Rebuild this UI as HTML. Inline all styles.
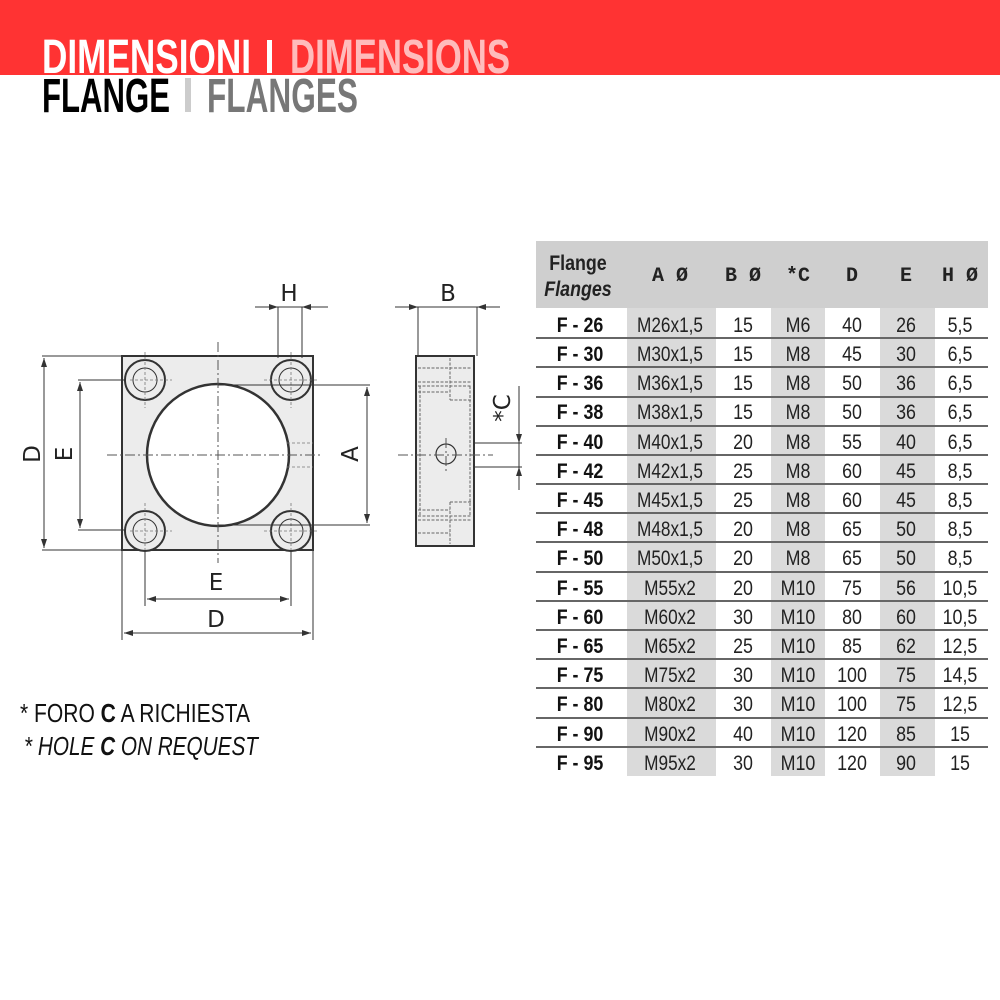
<!DOCTYPE html>
<html><head><meta charset="utf-8"><style>
html,body{margin:0;padding:0;background:#fff}
svg{display:block}
.t{font-family:"Liberation Sans Narrow","Liberation Sans",sans-serif}
</style></head><body>
<svg width="1000" height="1000" viewBox="0 0 1000 1000" xmlns="http://www.w3.org/2000/svg">
<rect x="0" y="0" width="1000" height="75" fill="#ff3333"/>
<g class="t" font-weight="bold">
<text x="42" y="73" font-size="48" fill="#fff" textLength="209" lengthAdjust="spacingAndGlyphs">DIMENSIONI</text>
<rect x="267" y="40" width="5" height="33" fill="#fff"/>
<text x="290" y="73" font-size="48" fill="#ffbcbc" textLength="220" lengthAdjust="spacingAndGlyphs">DIMENSIONS</text>
<text x="42" y="112" font-size="48" fill="#000" textLength="128" lengthAdjust="spacingAndGlyphs">FLANGE</text>
<rect x="185" y="78" width="6" height="34" fill="#ccc"/>
<text x="207" y="112" font-size="48" fill="#777" textLength="151" lengthAdjust="spacingAndGlyphs">FLANGES</text>
</g>

<g stroke="#333" fill="none">
<rect x="122" y="356" width="191" height="194" fill="#ececec" stroke-width="2"/>
<circle cx="218" cy="455" r="71" fill="#fff" stroke-width="2.5"/>
<g stroke-width="2" fill="#ececec">
<circle cx="145" cy="380" r="20"/><circle cx="291" cy="380" r="20"/>
<circle cx="145" cy="531" r="20"/><circle cx="291" cy="531" r="20"/>
</g>
<g stroke-width="1">
<circle cx="145" cy="380" r="12"/><circle cx="291" cy="380" r="12"/>
<circle cx="145" cy="531" r="12"/><circle cx="291" cy="531" r="12"/>
</g>
<g stroke="#555" stroke-width="1" stroke-dasharray="10,3,2,3">
<line x1="107" y1="455" x2="322" y2="455"/>
<line x1="218" y1="342" x2="218" y2="563"/>
</g>
<g stroke="#777" stroke-width="0.8" stroke-dasharray="3,2">
<line x1="130" y1="380" x2="172" y2="380"/><line x1="145" y1="352" x2="145" y2="408"/>
<line x1="264" y1="380" x2="318" y2="380"/><line x1="291" y1="352" x2="291" y2="408"/>
<line x1="130" y1="531" x2="172" y2="531"/><line x1="145" y1="503" x2="145" y2="550"/>
<line x1="264" y1="531" x2="318" y2="531"/><line x1="291" y1="503" x2="291" y2="550"/>
<line x1="287" y1="443" x2="313" y2="443"/><line x1="287" y1="467" x2="313" y2="467"/>
</g>
<g stroke="#333" stroke-width="1">
<line x1="42" y1="356" x2="122" y2="356"/><line x1="42" y1="550" x2="122" y2="550"/>
<line x1="44" y1="358" x2="44" y2="548"/>
<line x1="78" y1="380" x2="125" y2="380"/><line x1="78" y1="530" x2="125" y2="530"/>
<line x1="80" y1="382" x2="80" y2="528"/>
<line x1="218" y1="385" x2="370" y2="385"/><line x1="218" y1="525" x2="370" y2="525"/>
<line x1="367" y1="387" x2="367" y2="523"/>
<line x1="122" y1="550" x2="122" y2="640"/><line x1="313" y1="550" x2="313" y2="640"/>
<line x1="145" y1="550" x2="145" y2="606"/><line x1="291" y1="550" x2="291" y2="606"/>
<line x1="124" y1="633" x2="311" y2="633"/>
<line x1="147" y1="599" x2="289" y2="599"/>
<line x1="278" y1="307" x2="278" y2="358"/><line x1="302" y1="307" x2="302" y2="358"/>
<line x1="255" y1="307" x2="328" y2="307"/>
<line x1="418" y1="307" x2="418" y2="356"/><line x1="477" y1="307" x2="477" y2="356"/>
<line x1="395" y1="307" x2="500" y2="307"/>
<line x1="446" y1="443" x2="522" y2="443"/><line x1="446" y1="467" x2="522" y2="467"/>
<line x1="519" y1="386" x2="519" y2="490"/>
</g>
</g>
<g fill="#333">
<path d="M44 358l-3 9h6z M44 548l-3-9h6z"/>
<path d="M80 382l-3 9h6z M80 528l-3-9h6z"/>
<path d="M367 387l-3 9h6z M367 523l-3-9h6z"/>
<path d="M124 633l9-3v6z M311 633l-9-3v6z"/>
<path d="M147 599l9-3v6z M289 599l-9-3v6z"/>
<path d="M278 307l-9-3v6z M302 307l9-3v6z"/>
<path d="M418 307l-9-3v6z M477 307l9-3v6z"/>
<path d="M519 443l-3-9h6z M519 467l-3 9h6z"/>
</g>

<g stroke="#333" fill="none">
<rect x="416" y="356" width="58" height="190" fill="#ececec" stroke-width="2"/>
<g stroke="#666" stroke-width="1" stroke-dasharray="3,1.5">
<line x1="418" y1="368" x2="472" y2="368"/>
<line x1="418" y1="382" x2="472" y2="382"/>
<line x1="418" y1="386" x2="472" y2="386"/>
<line x1="418" y1="392" x2="450" y2="392"/>
<line x1="450" y1="358" x2="450" y2="400"/><line x1="450" y1="400" x2="472" y2="400"/>
<line x1="420" y1="386" x2="420" y2="516"/><line x1="470" y1="386" x2="470" y2="516"/>
<line x1="450" y1="502" x2="472" y2="502"/><line x1="450" y1="502" x2="450" y2="544"/>
<line x1="418" y1="510" x2="450" y2="510"/>
<line x1="418" y1="516" x2="472" y2="516"/>
<line x1="418" y1="520" x2="472" y2="520"/>
<line x1="418" y1="533" x2="450" y2="533"/>
</g>
<circle cx="446" cy="454" r="10" stroke-width="1.2"/>
<g stroke="#555" stroke-width="1" stroke-dasharray="10,3,2,3">
<line x1="398" y1="455" x2="493" y2="455"/>
<line x1="446" y1="438" x2="446" y2="472"/>
</g>
</g>

<g font-family="'DejaVu Sans','Liberation Sans',sans-serif" font-size="23" fill="#222" text-anchor="middle">
<text x="289" y="301">H</text>
<text x="448" y="301">B</text>
<text x="216" y="590">E</text>
<text x="216" y="627">D</text>
<text transform="translate(40,454) rotate(-90)">D</text>
<text transform="translate(72,454) rotate(-90)">E</text>
<text transform="translate(358,454) rotate(-90)">A</text>
<text transform="translate(510,408) rotate(-90)">*C</text>
</g>

<g class="t" font-size="26" fill="#111">
<text x="20" y="722" textLength="230" lengthAdjust="spacingAndGlyphs">* FORO <tspan font-weight="bold">C</tspan> A RICHIESTA</text>
<text x="24" y="755" font-style="italic" textLength="234" lengthAdjust="spacingAndGlyphs">* HOLE <tspan font-weight="bold">C</tspan> ON REQUEST</text>
</g>

<rect x="536" y="241" width="452" height="67" fill="#cfcfcf"/>
<rect x="627" y="308" width="89" height="468" fill="#dadada"/>
<rect x="771" y="308" width="54" height="468" fill="#dadada"/>
<rect x="880" y="308" width="55" height="468" fill="#dadada"/>
<g fill="#666">
<rect x="536" y="337" width="452" height="2"/><rect x="536" y="366" width="452" height="2"/>
<rect x="536" y="396" width="452" height="2"/><rect x="536" y="425" width="452" height="2"/>
<rect x="536" y="454" width="452" height="2"/><rect x="536" y="483" width="452" height="2"/>
<rect x="536" y="512" width="452" height="2"/><rect x="536" y="541" width="452" height="2"/>
<rect x="536" y="571" width="452" height="2"/><rect x="536" y="600" width="452" height="2"/>
<rect x="536" y="629" width="452" height="2"/><rect x="536" y="658" width="452" height="2"/>
<rect x="536" y="687" width="452" height="2"/><rect x="536" y="717" width="452" height="2"/>
<rect x="536" y="746" width="452" height="2"/>
</g>
<g class="t" fill="#222" text-anchor="middle" font-weight="bold" transform="translate(578,0) scale(0.85,1)">
<text x="0" y="270" font-size="21">Flange</text>
<text x="0" y="296" font-size="21" font-style="italic">Flanges</text>
</g>
<g font-family="'Liberation Mono',monospace" font-weight="bold" font-size="20" fill="#222" text-anchor="middle">
<text x="670" y="281">A Ø</text><text x="743" y="281">B Ø</text><text x="798" y="281">*C</text>
<text x="852" y="281">D</text><text x="906" y="281">E</text><text x="960" y="281">H Ø</text>
</g>
<g class="t" font-size="21" fill="#222" text-anchor="middle">
<g font-weight="bold" fill="#111" transform="translate(580,0) scale(0.85,1)">
<text x="0" y="332">F - 26</text><text x="0" y="361">F - 30</text><text x="0" y="390">F - 36</text><text x="0" y="419">F - 38</text>
<text x="0" y="449">F - 40</text><text x="0" y="478">F - 42</text><text x="0" y="507">F - 45</text><text x="0" y="536">F - 48</text>
<text x="0" y="565">F - 50</text><text x="0" y="595">F - 55</text><text x="0" y="624">F - 60</text><text x="0" y="653">F - 65</text>
<text x="0" y="682">F - 75</text><text x="0" y="711">F - 80</text><text x="0" y="741">F - 90</text><text x="0" y="770">F - 95</text>
</g>
<g transform="translate(670,0) scale(0.82,1)">
<text x="0" y="332">M26x1,5</text><text x="0" y="361">M30x1,5</text><text x="0" y="390">M36x1,5</text><text x="0" y="419">M38x1,5</text>
<text x="0" y="449">M40x1,5</text><text x="0" y="478">M42x1,5</text><text x="0" y="507">M45x1,5</text><text x="0" y="536">M48x1,5</text>
<text x="0" y="565">M50x1,5</text><text x="0" y="595">M55x2</text><text x="0" y="624">M60x2</text><text x="0" y="653">M65x2</text>
<text x="0" y="682">M75x2</text><text x="0" y="711">M80x2</text><text x="0" y="741">M90x2</text><text x="0" y="770">M95x2</text>
</g>
<g transform="translate(743,0) scale(0.85,1)">
<text x="0" y="332">15</text><text x="0" y="361">15</text><text x="0" y="390">15</text><text x="0" y="419">15</text>
<text x="0" y="449">20</text><text x="0" y="478">25</text><text x="0" y="507">25</text><text x="0" y="536">20</text>
<text x="0" y="565">20</text><text x="0" y="595">20</text><text x="0" y="624">30</text><text x="0" y="653">25</text>
<text x="0" y="682">30</text><text x="0" y="711">30</text><text x="0" y="741">40</text><text x="0" y="770">30</text>
</g>
<g transform="translate(798,0) scale(0.85,1)">
<text x="0" y="332">M6</text><text x="0" y="361">M8</text><text x="0" y="390">M8</text><text x="0" y="419">M8</text>
<text x="0" y="449">M8</text><text x="0" y="478">M8</text><text x="0" y="507">M8</text><text x="0" y="536">M8</text>
<text x="0" y="565">M8</text><text x="0" y="595">M10</text><text x="0" y="624">M10</text><text x="0" y="653">M10</text>
<text x="0" y="682">M10</text><text x="0" y="711">M10</text><text x="0" y="741">M10</text><text x="0" y="770">M10</text>
</g>
<g transform="translate(852,0) scale(0.85,1)">
<text x="0" y="332">40</text><text x="0" y="361">45</text><text x="0" y="390">50</text><text x="0" y="419">50</text>
<text x="0" y="449">55</text><text x="0" y="478">60</text><text x="0" y="507">60</text><text x="0" y="536">65</text>
<text x="0" y="565">65</text><text x="0" y="595">75</text><text x="0" y="624">80</text><text x="0" y="653">85</text>
<text x="0" y="682">100</text><text x="0" y="711">100</text><text x="0" y="741">120</text><text x="0" y="770">120</text>
</g>
<g transform="translate(906,0) scale(0.85,1)">
<text x="0" y="332">26</text><text x="0" y="361">30</text><text x="0" y="390">36</text><text x="0" y="419">36</text>
<text x="0" y="449">40</text><text x="0" y="478">45</text><text x="0" y="507">45</text><text x="0" y="536">50</text>
<text x="0" y="565">50</text><text x="0" y="595">56</text><text x="0" y="624">60</text><text x="0" y="653">62</text>
<text x="0" y="682">75</text><text x="0" y="711">75</text><text x="0" y="741">85</text><text x="0" y="770">90</text>
</g>
<g transform="translate(960,0) scale(0.85,1)">
<text x="0" y="332">5,5</text><text x="0" y="361">6,5</text><text x="0" y="390">6,5</text><text x="0" y="419">6,5</text>
<text x="0" y="449">6,5</text><text x="0" y="478">8,5</text><text x="0" y="507">8,5</text><text x="0" y="536">8,5</text>
<text x="0" y="565">8,5</text><text x="0" y="595">10,5</text><text x="0" y="624">10,5</text><text x="0" y="653">12,5</text>
<text x="0" y="682">14,5</text><text x="0" y="711">12,5</text><text x="0" y="741">15</text><text x="0" y="770">15</text>
</g>
</g>
</svg>
</body></html>
